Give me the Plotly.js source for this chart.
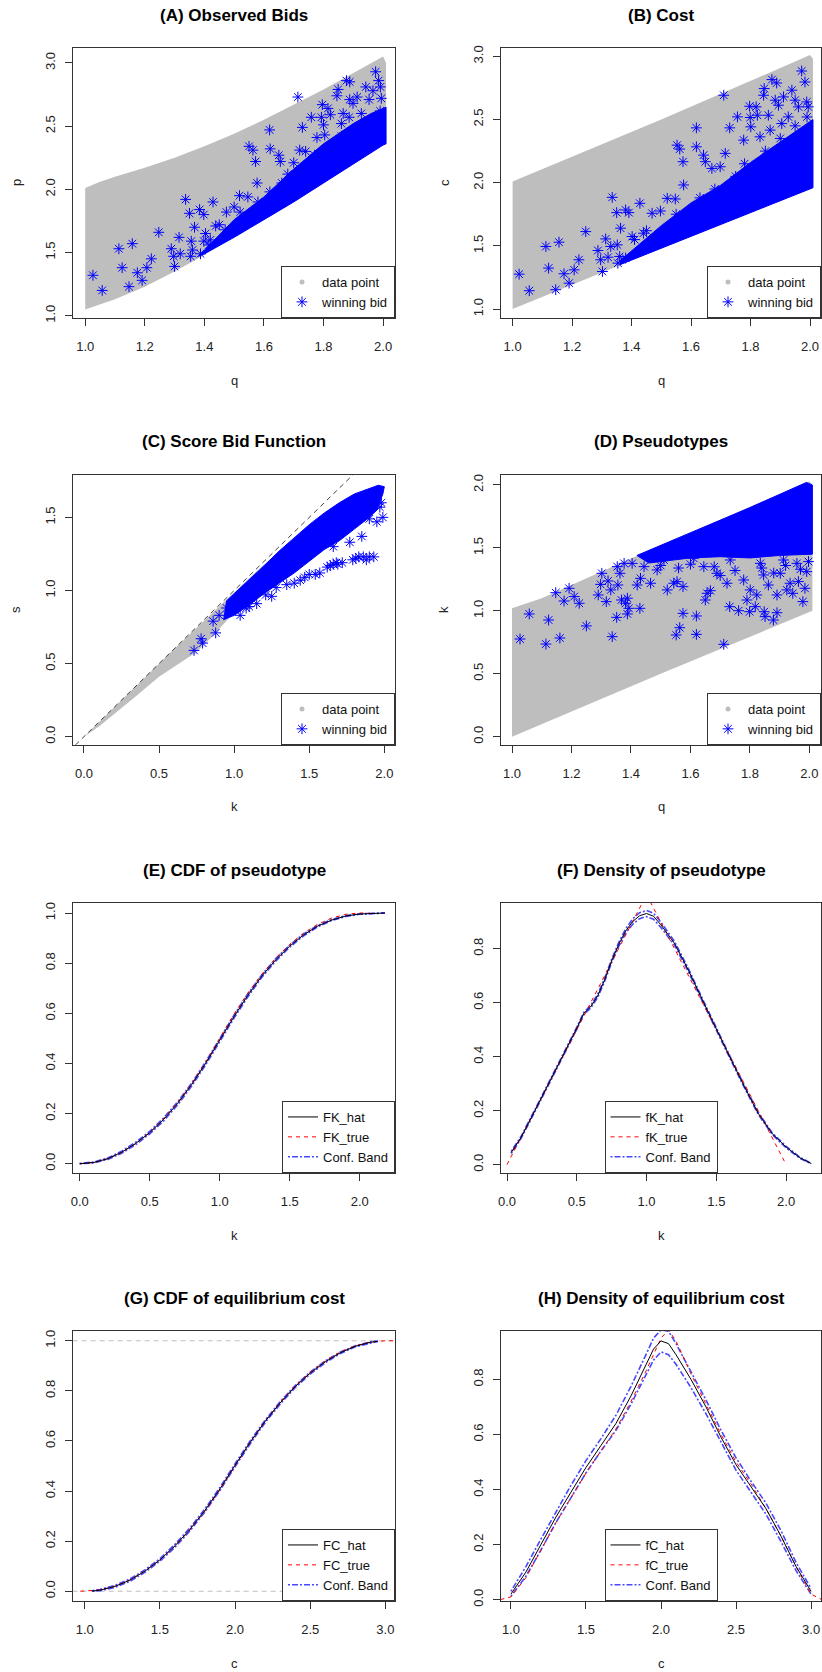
<!DOCTYPE html>
<html><head><meta charset="utf-8">
<script src="https://cdn.plot.ly/plotly-3.0.1.min.js"></script>
<style>html,body{margin:0;padding:0;background:#fff}</style>
</head><body><div id="chart" style="width:822px;height:1672px"></div>
<script>
// ---------- DATA ----------
// (A) Observed bids: outline of the grey data cloud, dense winning-bid band, individual winning bids
const A_cloud_q = [1.0,1.0,1.05,1.1,1.2,1.3,1.4,1.5,1.6,1.7,1.8,1.9,2.0,2.01,2.01,2.0,1.9,1.8,1.7,1.6,1.5,1.4,1.3,1.2,1.1,1.0];
const A_cloud_p = [1.05,2.01,2.06,2.1,2.17,2.25,2.34,2.44,2.55,2.67,2.79,2.92,3.05,3.0,2.36,2.35,2.2,2.05,1.9,1.76,1.62,1.48,1.35,1.23,1.13,1.05];
const A_dense_q = [1.38,1.45,1.5,1.6,1.7,1.8,1.9,1.96,2.01,2.01,2.0,1.9,1.8,1.7,1.6,1.5,1.4,1.38];
const A_dense_p = [1.47,1.64,1.76,1.94,2.16,2.36,2.52,2.6,2.65,2.36,2.35,2.2,2.05,1.9,1.76,1.62,1.49,1.47];
const A_win_q = [1.026,1.057,1.113,1.124,1.158,1.147,1.175,1.191,1.207,1.222,1.247,1.289,1.297,1.30,1.315,1.319,1.337,1.35,1.356,1.354,1.367,1.384,1.387,1.398,1.398,1.415,1.429,1.404,1.438,1.474,1.50,1.518,1.546,1.55,1.563,1.572,1.577,1.619,1.621,1.65,1.655,1.70,1.714,1.72,1.729,1.74,1.759,1.778,1.793,1.796,1.80,1.815,1.823,1.804,1.845,1.849,1.866,1.877,1.888,1.888,1.899,1.886,1.913,1.942,1.953,1.966,1.975,1.985,1.991,1.994,1.86,1.927,1.45,1.52,1.58,1.62,1.66,1.68,1.75,1.77,1.83,1.86,1.92,1.97,1.99,1.36,1.42,1.47];
const A_win_p = [1.32,1.20,1.53,1.38,1.57,1.23,1.34,1.28,1.38,1.45,1.66,1.53,1.47,1.39,1.62,1.49,1.92,1.81,1.59,1.47,1.70,1.84,1.49,1.80,1.59,1.56,1.90,1.65,1.71,1.82,1.86,1.95,1.94,2.34,2.31,2.22,2.05,2.47,2.32,2.27,2.22,2.21,2.73,2.31,2.49,2.30,2.57,2.41,2.57,2.67,2.51,2.64,2.59,2.43,2.74,2.79,2.60,2.86,2.85,2.71,2.68,2.57,2.73,2.81,2.71,2.78,2.93,2.86,2.81,2.72,2.52,2.60,1.72,1.82,1.90,1.98,2.05,2.12,2.20,2.27,2.35,2.42,2.50,2.56,2.62,1.52,1.6,1.68];

// (B) Cost
const B_cloud_q = [1.0,1.0,1.5,2.0,2.01,2.01,1.5,1.0];
const B_cloud_c = [1.0,2.01,2.5,3.01,2.98,1.96,1.48,1.0];
const B_dense_q = [1.36,1.42,1.5,1.6,1.7,1.8,1.9,1.96,2.01,2.01,1.7,1.36];
const B_dense_c = [1.38,1.5,1.66,1.84,1.98,2.16,2.32,2.42,2.5,1.96,1.67,1.35];
const B_win_q = [1.022,1.056,1.112,1.121,1.156,1.145,1.173,1.19,1.207,1.223,1.246,1.287,1.296,1.302,1.313,1.321,1.33,1.335,1.35,1.352,1.354,1.36,1.38,1.391,1.363,1.38,1.428,1.402,1.469,1.497,1.52,1.547,1.553,1.562,1.573,1.575,1.618,1.618,1.642,1.648,1.67,1.698,1.71,1.715,1.73,1.756,1.777,1.797,1.799,1.801,1.819,1.823,1.844,1.846,1.86,1.872,1.888,1.883,1.894,1.905,1.911,1.939,1.95,1.961,1.972,1.983,1.989,1.994,1.927,1.866,1.832,1.45,1.55,1.63,1.68,1.75,1.78,1.85,1.9,1.95,1.99,1.41,1.44];
const B_win_c = [1.276,1.145,1.495,1.324,1.529,1.153,1.279,1.205,1.31,1.39,1.613,1.463,1.39,1.297,1.555,1.41,1.495,1.884,1.763,1.508,1.363,1.416,1.784,1.763,1.64,1.403,1.837,1.574,1.758,1.776,1.876,1.871,2.297,2.266,2.166,1.982,2.434,2.284,2.218,2.166,2.113,2.126,2.692,2.232,2.434,2.521,2.337,2.605,2.516,2.442,2.6,2.534,2.692,2.745,2.534,2.816,2.789,2.653,2.613,2.468,2.679,2.732,2.653,2.6,2.884,2.797,2.639,2.6,2.521,2.416,2.363,1.62,1.75,1.88,1.95,2.05,2.15,2.25,2.35,2.45,2.52,1.55,1.6];

// (C) Score bid function
const C_cloud_k = [0.0,0.3,0.6,0.9,1.2,1.3,1.2,1.0,0.85,0.75,0.6,0.5,0.35,0.2,0.1,0.0];
const C_cloud_s = [0.0,0.3,0.6,0.89,1.18,1.26,1.05,0.85,0.68,0.58,0.48,0.41,0.28,0.15,0.07,0.0];
const C_dense_k = [0.95,1.1,1.2,1.3,1.4,1.5,1.6,1.7,1.8,1.9,1.96,2.0,1.99,1.95,1.9,1.8,1.7,1.6,1.5,1.4,1.3,1.2,1.1,1.0,0.93,0.95];
const C_dense_s = [0.93,1.07,1.17,1.27,1.36,1.45,1.53,1.6,1.66,1.7,1.72,1.71,1.66,1.55,1.5,1.42,1.34,1.28,1.2,1.12,1.05,0.98,0.9,0.83,0.8,0.93];
const C_win_k = [0.733,0.78,0.79,0.86,0.877,0.9,0.99,1.04,1.08,1.15,1.21,1.28,1.35,1.44,1.5,1.57,1.62,1.66,1.69,1.79,1.83,1.90,1.93,1.66,1.77,1.85,1.9,1.95,1.97,1.99,1.98,0.95,1.02,1.12,1.64,1.68,1.72,1.81,1.86,1.88,1.1,1.25,1.4,1.47,1.54];
const C_win_s = [0.59,0.67,0.64,0.79,0.71,0.83,0.87,0.83,0.88,0.91,0.97,1.02,1.04,1.07,1.11,1.12,1.16,1.18,1.18,1.21,1.23,1.23,1.23,1.30,1.33,1.37,1.49,1.47,1.57,1.50,1.60,0.88,0.92,0.98,1.17,1.19,1.19,1.22,1.23,1.21,0.89,0.96,1.05,1.09,1.11];
const C_diag_k = [-0.1,1.85];
const C_diag_s = [-0.1,1.85];

// (D) Pseudotypes
const D_cloud_q = [1.0,1.0,1.1,1.5,2.0,2.01,2.01,1.5,1.0];
const D_cloud_k = [0.0,1.02,1.1,1.52,2.03,2.0,1.0,0.5,0.0];
const D_dense_q = [1.42,1.6,1.8,1.99,2.01,2.01,1.9,1.8,1.7,1.6,1.52,1.46,1.42];
const D_dense_k = [1.44,1.62,1.82,2.02,2.0,1.45,1.44,1.42,1.43,1.42,1.4,1.38,1.44];
const D_win_q = [1.027,1.058,1.114,1.123,1.161,1.147,1.175,1.192,1.209,1.226,1.25,1.29,1.298,1.302,1.317,1.323,1.332,1.337,1.354,1.356,1.352,1.363,1.368,1.382,1.388,1.393,1.388,1.404,1.377,1.43,1.421,1.432,1.444,1.466,1.488,1.522,1.544,1.555,1.575,1.575,1.564,1.552,1.62,1.62,1.65,1.667,1.656,1.689,1.712,1.723,1.732,1.762,1.779,1.79,1.799,1.801,1.818,1.823,1.846,1.848,1.851,1.862,1.879,1.891,1.891,1.902,1.924,1.935,1.944,1.963,1.978,1.985,1.991,1.997,1.958,1.913,1.835,1.734,1.645,1.611,1.511,1.477,1.5,1.56,1.6,1.68,1.75,1.84,1.92,1.97,1.7,1.88];
const D_win_k = [0.776,0.975,0.736,0.927,0.784,1.144,1.078,1.179,1.113,1.06,0.88,1.126,1.21,1.298,1.073,1.237,1.166,0.795,1.351,1.205,0.948,1.298,1.086,1.06,1.1,1.02,0.975,1.377,1.377,1.02,1.205,1.258,1.351,1.219,1.325,1.166,1.219,1.232,1.192,0.98,0.866,0.808,0.959,0.813,1.086,1.16,1.139,1.298,0.734,1.219,1.033,1.001,1.245,1.086,0.993,1.166,1.033,1.126,1.285,0.993,0.954,1.205,0.927,1.126,0.985,1.298,1.166,1.219,1.139,1.232,1.073,1.179,1.311,1.391,1.377,1.404,1.377,1.404,1.351,1.417,1.404,1.43,1.36,1.34,1.37,1.35,1.32,1.34,1.36,1.33,1.28,1.3];

// (E) CDF of pseudotype
const E_k = [0,0.1,0.2,0.3,0.4,0.5,0.6,0.7,0.8,0.9,1.0,1.1,1.2,1.3,1.4,1.5,1.6,1.7,1.8,1.9,2.0,2.1,2.18];
const FK_hat = [0,0.005,0.02,0.046,0.081,0.124,0.177,0.241,0.316,0.401,0.493,0.585,0.671,0.748,0.813,0.868,0.913,0.948,0.972,0.988,0.996,0.999,1.0];
const FK_up  = [0.001,0.007,0.023,0.05,0.086,0.129,0.183,0.247,0.322,0.407,0.499,0.591,0.677,0.753,0.818,0.872,0.917,0.951,0.974,0.99,0.997,1.0,1.0];
const FK_lo  = [0,0.003,0.017,0.042,0.076,0.119,0.171,0.235,0.31,0.395,0.487,0.579,0.665,0.743,0.808,0.864,0.909,0.945,0.97,0.986,0.995,0.998,1.0];
const E_k_true = [0,0.1,0.2,0.3,0.4,0.5,0.6,0.7,0.8,0.9,1.0,1.1,1.2,1.3,1.4,1.5,1.6,1.7,1.8,1.9,2.0,2.07];
const FK_true = [0,0.005,0.02,0.045,0.08,0.125,0.18,0.245,0.32,0.405,0.5,0.595,0.68,0.755,0.82,0.875,0.92,0.955,0.98,0.995,1.0,1.0];

// (F) Density of pseudotype
const F_k = [0.03,0.1,0.2,0.3,0.4,0.5,0.55,0.6,0.65,0.7,0.75,0.8,0.85,0.9,0.95,1.0,1.05,1.1,1.2,1.3,1.4,1.5,1.6,1.7,1.8,1.9,2.0,2.1,2.18];
const fK_hat = [0.045,0.1,0.2,0.3,0.4,0.505,0.56,0.585,0.625,0.685,0.755,0.815,0.865,0.9,0.922,0.93,0.92,0.89,0.82,0.72,0.61,0.5,0.395,0.29,0.19,0.115,0.065,0.025,0.004];
const fK_up  = [0.049,0.104,0.204,0.304,0.405,0.509,0.564,0.59,0.631,0.691,0.761,0.822,0.873,0.91,0.933,0.941,0.931,0.9,0.827,0.726,0.615,0.504,0.399,0.294,0.194,0.118,0.068,0.027,0.005];
const fK_lo  = [0.041,0.096,0.196,0.296,0.395,0.501,0.556,0.58,0.619,0.679,0.749,0.808,0.857,0.89,0.911,0.919,0.909,0.88,0.813,0.714,0.605,0.496,0.391,0.286,0.186,0.112,0.062,0.023,0.003];
const F_k_true = [0,1,2];
const fK_true = [0,1,0];

// (G) CDF of equilibrium cost
const G_c = [1.05,1.1,1.2,1.3,1.4,1.5,1.6,1.7,1.8,1.9,2.0,2.1,2.2,2.3,2.4,2.5,2.6,2.7,2.8,2.9,2.95];
const FC_hat = [0.001,0.004,0.019,0.044,0.08,0.125,0.181,0.247,0.323,0.409,0.503,0.594,0.678,0.752,0.817,0.871,0.916,0.952,0.978,0.994,0.998];
const FC_up  = [0.002,0.007,0.023,0.049,0.085,0.13,0.187,0.253,0.329,0.415,0.509,0.6,0.683,0.757,0.821,0.875,0.92,0.955,0.98,0.996,0.999];
const FC_lo  = [0,0.002,0.015,0.039,0.075,0.12,0.175,0.241,0.317,0.403,0.497,0.588,0.673,0.747,0.813,0.867,0.912,0.949,0.976,0.992,0.997];
const G_c_true = [0.97,1.1,1.2,1.3,1.4,1.5,1.6,1.7,1.8,1.9,2.0,2.1,2.2,2.3,2.4,2.5,2.6,2.7,2.8,2.9,3.0,3.1];
const FC_true = [0,0.005,0.02,0.045,0.08,0.125,0.18,0.245,0.32,0.405,0.5,0.595,0.68,0.755,0.82,0.875,0.92,0.955,0.98,0.995,1.0,1.0];
const G_ref_c = [0.8,3.2];
const G_ref_lo = [0,0];
const G_ref_hi = [1,1];

// (H) Density of equilibrium cost
const H_c = [1.0,1.1,1.2,1.3,1.4,1.5,1.6,1.7,1.8,1.9,1.95,2.0,2.05,2.1,2.2,2.3,2.4,2.5,2.6,2.7,2.8,2.9,3.0];
const fC_hat = [0.02,0.1,0.2,0.3,0.39,0.48,0.56,0.64,0.74,0.85,0.91,0.94,0.93,0.89,0.8,0.7,0.59,0.49,0.41,0.33,0.23,0.12,0.03];
const fC_up  = [0.03,0.12,0.22,0.32,0.415,0.505,0.585,0.67,0.775,0.89,0.95,0.98,0.975,0.93,0.83,0.725,0.615,0.515,0.43,0.35,0.25,0.135,0.04];
const fC_lo  = [0.012,0.085,0.18,0.28,0.37,0.46,0.54,0.615,0.71,0.815,0.87,0.9,0.89,0.855,0.77,0.675,0.57,0.47,0.39,0.31,0.21,0.105,0.02];
const H_c_true = [0.93,1.0,1.1,1.2,1.3,1.4,1.5,1.6,1.7,1.8,1.9,2.0,2.05,2.1,2.2,2.3,2.4,2.5,2.6,2.7,2.8,2.9,3.0,3.07];
const fC_true = [0,0.01,0.08,0.18,0.28,0.37,0.46,0.54,0.62,0.72,0.83,0.95,0.98,0.94,0.82,0.71,0.6,0.5,0.42,0.33,0.23,0.12,0.02,0];

// tick values
const ticks_q = [1.0,1.2,1.4,1.6,1.8,2.0];
const ticks_13 = [1.0,1.5,2.0,2.5,3.0];
const ticks_0_2 = [0.0,0.5,1.0,1.5,2.0];
const ticks_0_15 = [0.0,0.5,1.0,1.5];
const ticks_01 = [0.0,0.2,0.4,0.6,0.8,1.0];
const ticks_008 = [0.0,0.2,0.4,0.6,0.8];

// titles / labels
const titles = ['(A) Observed Bids','(B) Cost','(C) Score Bid Function','(D) Pseudotypes','(E) CDF of pseudotype','(F) Density of pseudotype','(G) CDF of equilibrium cost','(H) Density of equilibrium cost'];
const xlabels = ['q','q','k','q','k','k','c','c'];
const ylabels = ['p','c','s','k','','','',''];

// ---------- LAYOUT ----------
const W = 822, H = 1672;
const FONT = '"Liberation Sans", Arial, Helvetica, sans-serif';
const COLS = [[73,395],[501,821]];
const ROWS = [[48,318],[475,745],[903,1173],[1331,1601]];
const GREY = '#BEBEBE', BLUE = '#0000FF';
const ranges = [
  {x:[0.959,2.04], y:[0.982,3.118], xt:ticks_q, yt:ticks_13},
  {x:[0.961,2.037], y:[0.929,3.066], xt:ticks_q, yt:ticks_13},
  {x:[-0.073,2.071], y:[-0.057,1.79], xt:ticks_0_2, yt:ticks_0_15},
  {x:[0.963,2.039], y:[-0.066,2.079], xt:ticks_q, yt:ticks_0_2},
  {x:[-0.048,2.252], y:[-0.037,1.04], xt:ticks_0_2, yt:ticks_01},
  {x:[-0.043,2.25], y:[-0.031,0.969], xt:ticks_0_2, yt:ticks_008},
  {x:[0.922,3.064], y:[-0.039,1.039], xt:ticks_13, yt:ticks_01},
  {x:[0.934,3.066], y:[-0.005,0.976], xt:ticks_13, yt:ticks_008}
];

const layout = {
  width: W, height: H, margin:{l:0,r:0,t:0,b:0},
  paper_bgcolor:'#fff', plot_bgcolor:'#fff',
  font:{family:FONT, size:13, color:'#222'},
  annotations: [], showlegend: true
};

function axisBase(extra){
  return Object.assign({
    showline:true, mirror:true, linecolor:'#333', linewidth:1,
    ticks:'outside', ticklen:7, tickwidth:1, tickcolor:'#333',
    showgrid:false, zeroline:false, automargin:false, fixedrange:true,
    tickmode:'array', tickformat:'.1f',
    tickfont:{family:FONT, size:13, color:'#222'}
  }, extra);
}

for (let i=0;i<8;i++){
  const col = i%2, row = Math.floor(i/2);
  const xd = [COLS[col][0]/W, COLS[col][1]/W];
  const yd = [1-ROWS[row][1]/H, 1-ROWS[row][0]/H];
  const sfx = i===0 ? '' : String(i+1);
  const r = ranges[i];
  layout['xaxis'+sfx] = axisBase({domain:xd, range:r.x, anchor:'y'+sfx, tickvals:r.xt, ticklabelstandoff:9});
  layout['yaxis'+sfx] = axisBase({domain:yd, range:r.y, anchor:'x'+sfx, tickvals:r.yt, tickangle:-90, ticklabelstandoff:5});
  const cx = (COLS[col][0]+COLS[col][1])/2/W;
  layout.annotations.push({text:'<b>'+titles[i]+'</b>', xref:'paper', yref:'paper', x:cx, y:1-(ROWS[row][0]-33)/H,
    xanchor:'center', yanchor:'middle', showarrow:false, font:{family:FONT, size:17, color:'#000'}});
  layout.annotations.push({text:xlabels[i], xref:'paper', yref:'paper', x:cx, y:1-(ROWS[row][1]+62)/H,
    xanchor:'center', yanchor:'middle', showarrow:false, font:{family:FONT, size:13, color:'#222'}});
  if (ylabels[i]) {
    layout.annotations.push({text:ylabels[i], xref:'paper', yref:'paper', x:(COLS[col][0]-57)/W, y:1-(ROWS[row][0]+ROWS[row][1])/2/H,
      xanchor:'center', yanchor:'middle', textangle:-90, showarrow:false, font:{family:FONT, size:13, color:'#222'}});
  }
  const lg = {xref:'paper', yref:'paper', yanchor:'bottom', y:1-ROWS[row][1]/H,
    bgcolor:'#fff', bordercolor:'#333', borderwidth:1, tracegroupgap:0, itemwidth:30,
    font:{family:FONT, size:13, color:'#111'}};
  if (i===5 || i===7) { lg.x = cx; lg.xanchor = 'center'; }
  else { lg.x = COLS[col][1]/W; lg.xanchor = 'right'; }
  layout[i===0 ? 'legend' : 'legend'+(i+1)] = lg;
}

// ---------- TRACES ----------
const traces = [];
function ref(i){ const s = i===0?'':String(i+1); return {xaxis:'x'+s, yaxis:'y'+s, legend: i===0?'legend':'legend'+(i+1)}; }

function scatterPanel(i, cq, cy, dq, dy, wq, wy){
  traces.push(Object.assign({x:cq, y:cy, mode:'lines', fill:'toself', fillcolor:GREY, line:{width:0, color:GREY}, showlegend:false, hoverinfo:'skip'}, ref(i)));
  traces.push(Object.assign({x:[null], y:[null], mode:'markers', name:'data point', marker:{symbol:'circle', size:5, color:GREY}}, ref(i)));
  traces.push(Object.assign({x:dq, y:dy, mode:'lines', fill:'toself', fillcolor:BLUE, line:{width:1, color:BLUE}, showlegend:false, hoverinfo:'skip'}, ref(i)));
  traces.push(Object.assign({x:wq, y:wy, mode:'markers', name:'winning bid',
    marker:{symbol:'asterisk-open', size:9, color:BLUE, line:{color:BLUE, width:1}}}, ref(i)));
}
scatterPanel(0, A_cloud_q, A_cloud_p, A_dense_q, A_dense_p, A_win_q, A_win_p);
scatterPanel(1, B_cloud_q, B_cloud_c, B_dense_q, B_dense_c, B_win_q, B_win_c);
scatterPanel(2, C_cloud_k, C_cloud_s, C_dense_k, C_dense_s, C_win_k, C_win_s);
traces.push(Object.assign({x:C_diag_k, y:C_diag_s, mode:'lines', line:{color:'#444', width:1, dash:'5px,4px'}, showlegend:false}, ref(2)));
scatterPanel(3, D_cloud_q, D_cloud_k, D_dense_q, D_dense_k, D_win_q, D_win_k);

const BANDLINE = {color:'rgba(40,40,255,0.85)', width:1.6, dash:'2px,2px,6px,2px'};
function curvePanel(i, names, xh, yh, xt, yt, yu, yl){
  traces.push(Object.assign({x:xh, y:yu, mode:'lines', line:BANDLINE, name:names[2], showlegend:false}, ref(i)));
  traces.push(Object.assign({x:xh, y:yl, mode:'lines', line:BANDLINE, name:names[2], showlegend:false}, ref(i)));
  traces.push(Object.assign({x:xt, y:yt, mode:'lines', line:{color:'#FF0000', width:1, dash:'4px,4px'}, name:names[1], showlegend:false}, ref(i)));
  traces.push(Object.assign({x:xh, y:yh, mode:'lines', line:{color:'#000', width:1}, name:names[0], showlegend:false}, ref(i)));
  // legend entries in R order
  traces.push(Object.assign({x:[null], y:[null], mode:'lines', line:{color:'#000', width:1}, name:names[0]}, ref(i)));
  traces.push(Object.assign({x:[null], y:[null], mode:'lines', line:{color:'#FF0000', width:1, dash:'4px,4px'}, name:names[1]}, ref(i)));
  traces.push(Object.assign({x:[null], y:[null], mode:'lines', line:BANDLINE, name:names[2]}, ref(i)));
}
curvePanel(4, ['FK_hat','FK_true','Conf. Band'], E_k, FK_hat, E_k_true, FK_true, FK_up, FK_lo);
curvePanel(5, ['fK_hat','fK_true','Conf. Band'], F_k, fK_hat, F_k_true, fK_true, fK_up, fK_lo);
traces.push(Object.assign({x:G_ref_c, y:G_ref_lo, mode:'lines', line:{color:GREY, width:1, dash:'5px,4px'}, showlegend:false}, ref(6)));
traces.push(Object.assign({x:G_ref_c, y:G_ref_hi, mode:'lines', line:{color:GREY, width:1, dash:'5px,4px'}, showlegend:false}, ref(6)));
curvePanel(6, ['FC_hat','FC_true','Conf. Band'], G_c, FC_hat, G_c_true, FC_true, FC_up, FC_lo);
curvePanel(7, ['fC_hat','fC_true','Conf. Band'], H_c, fC_hat, H_c_true, fC_true, fC_up, fC_lo);

Plotly.newPlot('chart', traces, layout, {staticPlot:true, displayModeBar:false});
</script></body></html>
